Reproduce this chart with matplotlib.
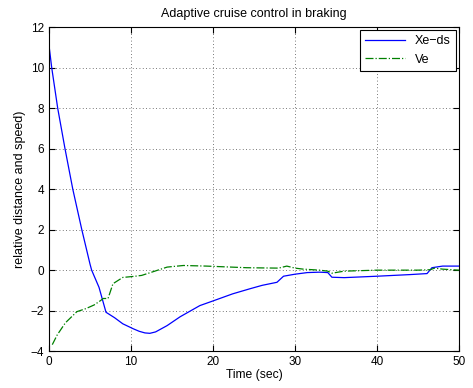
import numpy as np
import matplotlib
matplotlib.use("Agg")
import matplotlib.pyplot as plt

plt.rcParams['font.family'] = ['Liberation Sans', 'DejaVu Sans']

# Xe-ds (relative distance error)
t_x = [0, 0.33, 1.06, 1.95, 2.9, 4.0, 5.0, 5.2, 6.1, 6.95, 8.0, 9.0, 10.3, 11.0, 11.7, 12.3, 13.0,
       14.4, 16.0, 18.4, 20.0, 22.4, 24.5, 26.0, 27.8, 28.2, 28.6, 30.0, 31.5, 33.0,
       34.0, 34.5, 36.0, 40.0, 44.0, 46.1, 46.7, 48.0, 50.0]
xe_ds = [11.1, 10.0, 8.0, 6.0, 4.0, 2.0, 0.3, 0.0, -0.85, -2.08, -2.35, -2.65, -2.9, -3.02, -3.1, -3.12, -3.05,
         -2.74, -2.3, -1.75, -1.52, -1.17, -0.92, -0.75, -0.6, -0.45, -0.3, -0.2, -0.12, -0.1,
         -0.12, -0.35, -0.37, -0.3, -0.22, -0.17, 0.12, 0.2, 0.2]

# Ve (relative speed)
t_v = [0.4, 1.0, 2.0, 3.4, 4.5, 5.5, 6.3, 6.6, 7.2, 7.8, 9.0, 10.3, 11.3, 12.3, 14.4, 16.4,
       19.2, 24.1, 28.0, 29.0, 30.0, 31.0, 33.0, 34.0, 34.5, 36.0, 40.0, 45.0,
       46.5, 47.0, 48.0, 50.0]
ve = [-3.68, -3.2, -2.6, -2.05, -1.9, -1.72, -1.5, -1.4, -1.4, -0.67, -0.36, -0.31, -0.26, -0.13, 0.15, 0.23,
      0.2, 0.12, 0.1, 0.2, 0.1, 0.05, 0.0, -0.05, -0.15, -0.05, 0.0, 0.0,
      0.02, 0.1, 0.05, 0.0]

fig = plt.figure(figsize=(4.73, 3.88), dpi=100)
ax = fig.add_axes([0.1036, 0.095, 0.8668, 0.835])

ax.plot(t_x, xe_ds, color='blue', linewidth=0.9, label='Xe\u2212ds')
ax.plot(t_v, ve, color='#008000', linestyle='-.', linewidth=0.9, label='Ve')

ax.set_xlim(0, 50)
ax.set_ylim(-4, 12)
ax.set_xticks(np.arange(0, 51, 10))
ax.set_yticks(np.arange(-4, 13, 2))
ax.tick_params(direction='in', top=True, right=True, labelsize=8.5, length=4)
ax.grid(True, color='black', linestyle=(0, (1, 3)), linewidth=0.6, alpha=0.7)

ax.set_title('Adaptive cruise control in braking', fontsize=9, pad=7)
ax.set_xlabel('Time (sec)', fontsize=8.7, labelpad=1)
ax.set_ylabel('relative distance and speed)', fontsize=9, labelpad=3)

leg = ax.legend(loc='upper right', fontsize=9, fancybox=False, framealpha=1,
                edgecolor='black', handlelength=3.2, borderaxespad=0.25)
leg.get_frame().set_linewidth(0.8)

fig.savefig('out.png', dpi=100)
